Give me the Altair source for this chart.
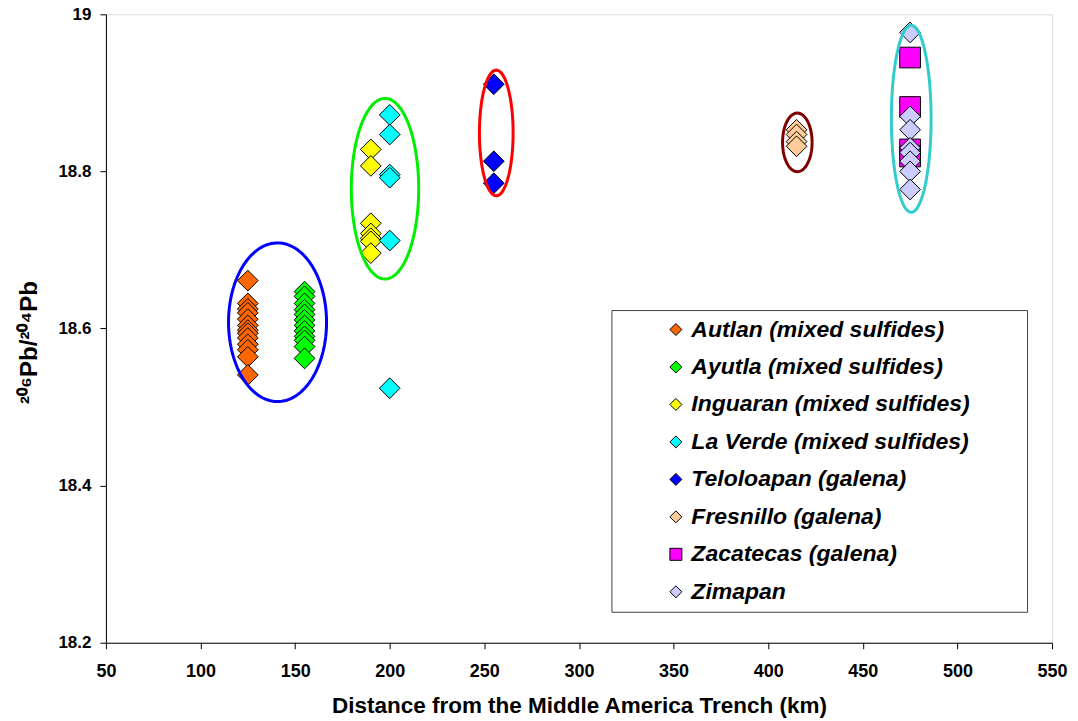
import altair as alt
import pandas as pd

# ---- data ----
categories = [
    "Autlan (mixed sulfides)",
    "Ayutla (mixed sulfides)",
    "Inguaran (mixed sulfides)",
    "La Verde (mixed sulfides)",
    "Teloloapan (galena)",
    "Fresnillo (galena)",
    "Zacatecas (galena)",
    "Zimapan",
]
fill_colors = ["#FF6600", "#00FF00", "#FFFF00", "#00FFFF", "#0000FF", "#FFCC99", "#FF00FF", "#CCCCFF"]
shapes = ["diamond", "diamond", "diamond", "diamond", "diamond", "diamond", "square", "diamond"]

distance = [125, 155, 190, 200, 255, 415, 475, 475]

autlan = [18.661, 18.632, 18.625, 18.620, 18.612, 18.604, 18.598, 18.594, 18.588, 18.580, 18.573, 18.564, 18.541]
ayutla = [18.647, 18.641, 18.632, 18.624, 18.618, 18.611, 18.604, 18.597, 18.590, 18.585, 18.577, 18.562]
inguaran = [18.828, 18.807, 18.734, 18.721, 18.715, 18.711, 18.696]
la_verde = [18.872, 18.847, 18.796, 18.792, 18.712, 18.524]
teloloapan = [18.911, 18.813, 18.785]
fresnillo = [18.853, 18.847, 18.838, 18.832]
zacatecas = [18.945, 18.882, 18.828, 18.819]
zimapan = [18.977, 18.870, 18.853, 18.830, 18.824, 18.813, 18.800, 18.777]

series_values = [autlan, ayutla, inguaran, la_verde, teloloapan, fresnillo, zacatecas, zimapan]

# ellipses drawn around groups (data units)
ell_names = ["blue", "green", "red", "darkred", "teal"]
ell_cx = [140.7, 197.5, 256.3, 415.4, 475.6]
ell_cy = [18.608, 18.778, 18.849, 18.837, 18.867]
ell_rx = [25.9, 17.8, 8.9, 7.8, 10.5]
ell_ry = [0.101, 0.115, 0.080, 0.0373, 0.119]
ell_colors = ["#0000FF", "#00EE00", "#FF0000", "#800000", "#33CCCC"]

x_ticks = [50, 100, 150, 200, 250, 300, 350, 400, 450, 500, 550]
y_ticks = [18.2, 18.4, 18.6, 18.8, 19.0]

# ---- build tables ----
rows = []
for cat, xv, vals in zip(categories, distance, series_values):
    for v in vals:
        rows.append({"site": cat, "dist": xv, "pb": v})
pts = pd.DataFrame(rows)

ell = pd.DataFrame({"name": ell_names, "cx": ell_cx, "cy": ell_cy,
                    "rx": ell_rx, "ry": ell_ry, "ec": ell_colors})

FONT = "Liberation Sans"

xscale = alt.Scale(domain=[50, 550], nice=False, zero=False)
yscale = alt.Scale(domain=[18.2, 19.0], nice=False, zero=False)

xaxis = alt.Axis(values=x_ticks, title="Distance from the Middle America Trench (km)",
                 grid=False, tickSize=6, labelPadding=14, labelFontSize=18,
                 labelFontWeight="bold", labelFont=FONT, labelColor="black",
                 titleFont=FONT, titleFontSize=22.5, titleFontWeight="bold", titleColor="black",
                 titleBaseline="alphabetic", titleY=70,
                 domainColor="black", tickColor="black", labelFlush=False, labelOverlap=False)
yaxis = alt.Axis(values=y_ticks, format="~f", title="²⁰⁶Pb/²⁰⁴Pb",
                 grid=False, tickSize=6, labelPadding=9, labelFontSize=17,
                 labelFontWeight="bold", labelFont=FONT, labelColor="black",
                 titleFont=FONT, titleFontSize=24, titleFontWeight="bold", titleColor="black",
                 titleAngle=270, titleBaseline="alphabetic", titleAlign="center",
                 titleX=-69, titleY=328,
                 domainColor="black", tickColor="black", labelFlush=False, labelOverlap=False)

legend = alt.Legend(orient="none", legendX=506, legendY=296, title="\u00a0",
                    titleOrient="right", titlePadding=49, titleFontSize=2,
                    labelFont=FONT, labelFontSize=23, labelFontWeight="bold",
                    labelFontStyle="italic", labelColor="black", labelLimit=600,
                    symbolSize=144, symbolStrokeColor="black", symbolStrokeWidth=1,
                    symbolOffset=45, labelOffset=4, rowPadding=13.5,
                    padding=8, strokeColor="#404040", fillColor="white")

points = alt.Chart(pts).mark_point(filled=True, stroke="black", strokeWidth=1,
                                   opacity=1, size=430).encode(
    x=alt.X("dist:Q", scale=xscale, axis=xaxis),
    y=alt.Y("pb:Q", scale=yscale, axis=yaxis),
    color=alt.Color("site:N", scale=alt.Scale(domain=categories, range=fill_colors),
                    sort=categories, legend=legend),
    shape=alt.Shape("site:N", scale=alt.Scale(domain=categories, range=shapes),
                    sort=categories, legend=legend),
)

ellipses = alt.Chart(ell).transform_calculate(
    t="sequence(0, 6.35, 0.05)"
).transform_flatten(["t"]).transform_calculate(
    ex="datum.cx + datum.rx * cos(datum.t)",
    ey="datum.cy + datum.ry * sin(datum.t)",
).mark_line(strokeWidth=3, interpolate="linear").encode(
    x=alt.X("ex:Q", scale=xscale),
    y=alt.Y("ey:Q", scale=yscale),
    stroke=alt.Stroke("ec:N", scale=None),
    detail="name:N",
    order="t:Q",
)

chart = alt.layer(points, ellipses).properties(
    width=947, height=629,
    autosize=alt.AutoSizeParams(type="none"),
    padding={"left": 98, "top": 6, "right": 18, "bottom": 75},
).configure_view(stroke="#808080", strokeWidth=1).configure_legend(
    symbolStrokeColor="black", symbolStrokeWidth=1
).configure(background="white")

chart.save("out.html", embed_options={"renderer": "svg", "actions": False})
